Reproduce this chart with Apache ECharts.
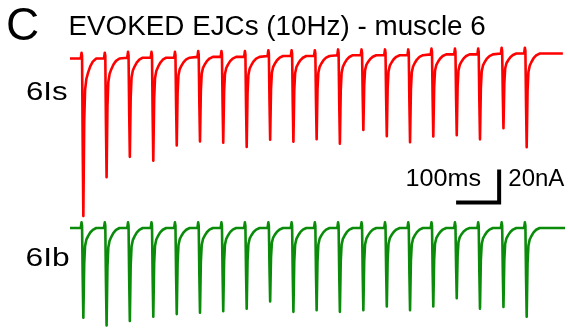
<!DOCTYPE html>
<html><head><meta charset="utf-8">
<script src="https://cdn.jsdelivr.net/npm/echarts@6/dist/echarts.min.js"></script>
<style>html,body{margin:0;padding:0;background:#fff}#c{width:568px;height:332px}</style>
</head><body><div id="c"></div>
<script>
// Stimulus onsets (ms)
const spikeTimes = [28, 82, 136, 190.5, 245, 299, 353, 407.5, 462, 516, 570, 624, 678.5, 733, 787, 841, 895.5, 949.5, 1004, 1058];
// EJC peak amplitudes (nA)
const redAmp = [95.5, 71.9, 60.1, 62.5, 53.2, 51.3, 52.1, 54.6, 50.7, 51.9, 50.4, 53.6, 45.3, 49.1, 52.7, 49.8, 49.0, 51.5, 45.2, 56.8];
const redBase = [0, 0, 0.5, 0.5, 0.5, 1, 1, 1, 1.5, 1.5, 1.5, 2, 2, 2, 2, 2.5, 2.5, 2.5, 3, 3];
const greenAmp = [56.1, 60.9, 58.1, 55.5, 53.8, 53.0, 52.0, 50.4, 45.9, 52.4, 51.4, 52.4, 51.4, 49.0, 51.4, 49.0, 43.9, 50.4, 49.4, 55.5];
const greenBase = [0, 0, 0, 0, 0, 0, 0, 0, 0, 0, 0, 0, 0, 0, 0, 0, 0, 0, 0, 0];
const redEnd = 1145, greenEnd = 1150;
// Shape of one EJC: time offset (ms), fraction of amplitude, stimulus artifact (nA)
const shapeT = [-3, -1.2, 0, 1.5, 3, 5, 7, 10, 14, 19, 25, 33];
const shapeFrac = [0, 0, 0, -0.55, -1, -0.4, -0.2, -0.13, -0.09, -0.05, -0.02, 0];
const shapeArt = [0, 3.5, 1.5, 0, 0, 0, 0, 0, 0, 0, 0, 0];
// Scale bar: 100 ms, 20 nA
const scaleX = [897, 997, 997];
const scaleY = [-87.2, -87.2, -67.2];

function buildTrace(amps, bases, end) {
  const pts = [[0, bases[0]]];
  spikeTimes.forEach((t0, i) => {
    shapeT.forEach((dt, k) => {
      pts.push([t0 + dt, bases[i] + shapeArt[k] + shapeFrac[k] * amps[i]]);
    });
  });
  pts.push([end, bases[bases.length - 1]]);
  return pts;
}

const chart = echarts.init(document.getElementById('c'), null, {renderer: 'canvas'});
const F = 'Liberation Sans, Arial, sans-serif';
const txt = (text, x, y, size, sx) => ({
  type: 'text', x: x, y: y, scaleX: sx, scaleY: 1, silent: true,
  style: {text: text, fontFamily: F, fontSize: size, fill: '#000', align: 'left', verticalAlign: 'middle'}
});
chart.setOption({
  animation: false,
  backgroundColor: '#fff',
  title: {text: 'C', left: 6, top: 2, padding: 0,
          textStyle: {fontFamily: F, fontSize: 46, fontWeight: 'normal', color: '#000', lineHeight: 50}},
  grid: [
    {left: 70, width: 495, top: 42, height: 206.25},
    {left: 70, width: 495, top: 212, height: 123.75}
  ],
  xAxis: [
    {type: 'value', gridIndex: 0, min: 0, max: 1150, show: false},
    {type: 'value', gridIndex: 1, min: 0, max: 1150, show: false}
  ],
  yAxis: [
    {type: 'value', gridIndex: 0, min: -115, max: 10, show: false},
    {type: 'value', gridIndex: 1, min: -65, max: 10, show: false}
  ],
  series: [
    {type: 'line', xAxisIndex: 0, yAxisIndex: 0, showSymbol: false, data: buildTrace(redAmp, redBase, redEnd),
     lineStyle: {color: '#ff0000', width: 2.6, join: 'round'}, itemStyle: {color: '#ff0000'}},
    {type: 'line', xAxisIndex: 1, yAxisIndex: 1, showSymbol: false, data: buildTrace(greenAmp, greenBase, greenEnd),
     lineStyle: {color: '#0a8c0a', width: 2.6, join: 'round'}, itemStyle: {color: '#0a8c0a'}},
    {type: 'line', xAxisIndex: 0, yAxisIndex: 0, showSymbol: false,
     data: scaleX.map((x, i) => [x, scaleY[i]]),
     lineStyle: {color: '#000', width: 4, join: 'miter', cap: 'butt'}, itemStyle: {color: '#000'}}
  ],
  graphic: [
    txt('EVOKED EJCs (10Hz) - muscle 6', 68.5, 27.5, 27, 1.03),
    txt('6Is', 26, 92.5, 26, 1.2),
    txt('6Ib', 25.5, 259.5, 25, 1.27),
    txt('100ms', 405.5, 179.5, 24, 1.05),
    txt('20nA', 508.3, 179.3, 24, 1.0)
  ]
});
</script></body></html>
